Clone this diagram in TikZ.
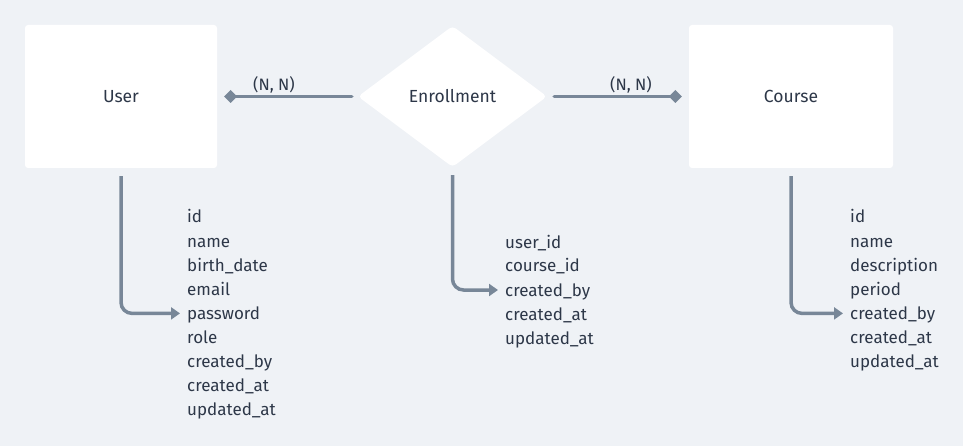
\documentclass[tikz,border=0pt]{standalone}
\usepackage{fontspec}
\setmainfont{Fira Sans}
\usetikzlibrary{shapes.geometric,arrows.meta}
\definecolor{bg}{RGB}{239,242,246}
\definecolor{lnc}{RGB}{120,135,152}
\definecolor{txt}{RGB}{45,55,72}
\tikzset{
  entity/.style={rectangle, fill=white, rounded corners=3pt, minimum width=192pt, minimum height=143pt, inner sep=0pt, text=txt, font=\fontsize{17.5}{20}\selectfont},
  relation/.style={diamond, fill=white, rounded corners=4pt, minimum width=189pt, minimum height=141pt, inner sep=0pt, text=txt, font=\fontsize{17.5}{20}\selectfont},
  rel line/.style={draw=lnc, line width=3.5pt, line cap=round, -{Turned Square[length=13pt,width=13pt,line join=miter]}},
  attr line/.style={draw=lnc, line width=3.5pt, rounded corners=11pt, -{Triangle[length=9pt,width=12pt]}},
  attr/.style={anchor=base west, inner sep=0pt, text=txt, font=\fontsize{17}{20}\selectfont},
  card/.style={text=txt, font=\fontsize{16.5}{19}\selectfont, inner sep=0pt}
}
\begin{document}
\begin{tikzpicture}[x=1pt,y=-1pt]
\fill[bg] (0,0) rectangle (963,446);
\useasboundingbox (0,0) rectangle (963,446);

\node[entity] (user) at (121,96.5) {User};
\node[entity, minimum width=204pt] (course) at (791,96.5) {Course};
\node[relation] (enr) at (452.5,96.5) {Enrollment};

% cardinality connectors
\draw[rel line, shorten <=6pt, shorten >=7pt] (enr.west) -- (user.east);
\draw[rel line, shorten <=7pt, shorten >=7pt] (enr.east) -- (course.west);
\node[card] (c1) at (274,85) {(N, N)};
\node[card] (c2) at (631,85) {(N, N)};

% User attributes
\foreach \t [count=\i] in {id,name,birth\_date,email,password,role,created\_by,created\_at,updated\_at}
  \node[attr] (u\i) at (187,{216+7+(\i-1)*24.1}) {\t};
% Enrollment attributes
\foreach \t [count=\i] in {user\_id,course\_id,created\_by,created\_at,updated\_at}
  \node[attr] (e\i) at (505,{241+7+(\i-1)*24}) {\t};
% Course attributes
\foreach \t [count=\i] in {id,name,description,period,created\_by,created\_at,updated\_at}
  \node[attr] (k\i) at (850,{216+7+(\i-1)*24.1}) {\t};

\draw[attr line, shorten <=8pt] (user.south) |- ([xshift=-7pt,yshift=6pt]u5.base west);
\draw[attr line, shorten <=8pt] (enr.south) |- ([xshift=-7pt,yshift=6pt]e3.base west);
\draw[attr line, shorten <=8pt] (course.south) |- ([xshift=-7pt,yshift=6pt]k5.base west);
\end{tikzpicture}
\end{document}
